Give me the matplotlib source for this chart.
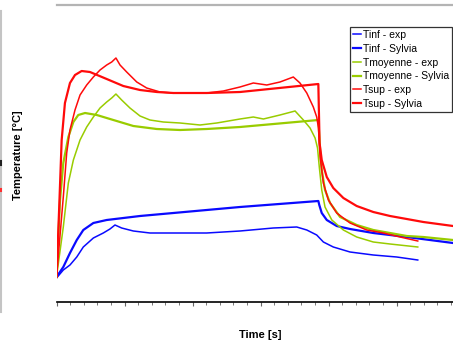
import matplotlib
matplotlib.use("Agg")
import matplotlib.pyplot as plt
from matplotlib.lines import Line2D
from matplotlib.ticker import MultipleLocator, NullFormatter, NullLocator

plt.rcParams['font.family'] = ['Liberation Sans', 'DejaVu Sans']

# ---- data (time in s, temperature in degC) ----
tinf_exp_t = [0, 50, 99, 149, 197, 271, 344, 393, 430, 479, 565, 687, 859, 1104, 1349, 1594, 1766,
              1840, 1913, 1962, 2035, 2158, 2329, 2501, 2656]
tinf_exp_T = [24, 32, 37, 45, 55, 64, 69, 73, 77, 74, 71, 69, 69, 69, 71, 74, 75,
              72, 67, 60, 55, 50, 47, 45, 42]

tinf_syl_t = [0, 50, 99, 149, 197, 271, 369, 614, 859, 1104, 1349, 1925, 1932, 1950, 1987, 2060,
              2158, 2329, 2575, 2915]
tinf_syl_T = [25, 35, 49, 62, 72, 79, 82, 86, 89, 92, 95, 101, 97, 89, 82, 76,
              73, 69, 65, 59]

tmoy_exp_t = [0, 50, 87, 124, 173, 222, 271, 320, 369, 406, 437, 479, 540, 614, 687, 785, 908,
              1055, 1178, 1349, 1447, 1521, 1643, 1754, 1815, 1864, 1901, 1919, 1932, 1950, 1974,
              2024, 2109, 2207, 2329, 2452, 2656]
tmoy_exp_T = [25, 75, 119, 142, 162, 175, 185, 194, 200, 204, 208, 202, 194, 186, 182, 180, 179,
              177, 179, 183, 185, 183, 187, 191, 182, 174, 164, 154, 135, 112, 95,
              82, 72, 65, 60, 58, 55]

tmoy_syl_t = [0, 26, 50, 87, 124, 160, 210, 296, 418, 565, 737, 908, 1104, 1349, 1925, 1938, 1950,
              1974, 2011, 2085, 2207, 2329, 2452, 2575, 2697, 2915]
tmoy_syl_T = [25, 102, 139, 165, 180, 187, 189, 187, 182, 176, 173, 172, 173, 175, 182, 152, 132,
              112, 99, 85, 77, 72, 69, 66, 65, 62]

tsup_exp_t = [0, 50, 75, 99, 136, 173, 222, 271, 320, 369, 406, 437, 467, 516, 590, 663, 761, 859,
              982, 1104, 1227, 1349, 1447, 1546, 1643, 1741, 1790, 1840, 1888, 1913, 1926, 1938,
              1962, 1999, 2060, 2158, 2281, 2403, 2526, 2656]
tsup_exp_T = [25, 105, 149, 172, 192, 207, 217, 225, 232, 237, 240, 244, 237, 230, 220, 214, 210, 209,
              209, 209, 211, 215, 219, 217, 220, 225, 219, 209, 195, 185, 174, 145,
              119, 102, 89, 79, 72, 69, 65, 61]

tsup_syl_t = [0, 20, 38, 62, 99, 136, 185, 246, 369, 491, 614, 737, 859, 1104, 1349, 1925, 1934,
              1950, 1987, 2035, 2109, 2207, 2329, 2452, 2575, 2697, 2915]
tsup_syl_T = [25, 95, 162, 199, 219, 227, 231, 230, 223, 216, 212, 210, 209, 209, 210, 218, 159,
              142, 125, 114, 104, 96, 90, 86, 83, 80, 76]

labels = ['Tinf - exp', 'Tinf - Sylvia', 'Tmoyenne - exp', 'Tmoyenne - Sylvia',
          'Tsup - exp', 'Tsup - Sylvia']

BLUE = '#0a0aff'
GREEN = '#99cc00'
RED = '#ff0a0a'

W, H = 453, 345
fig = plt.figure(figsize=(W / 100, H / 100), dpi=100)
ax = fig.add_axes([56.5 / W, (H - 302) / H, 1 - 56.5 / W, (302 - 5) / H])

ax.plot(tinf_exp_t, tinf_exp_T, color=BLUE, lw=1.1, label=labels[0])
ax.plot(tinf_syl_t, tinf_syl_T, color=BLUE, lw=1.6, label=labels[1])
ax.plot(tmoy_exp_t, tmoy_exp_T, color=GREEN, lw=1.1, label=labels[2])
ax.plot(tmoy_syl_t, tmoy_syl_T, color=GREEN, lw=1.6, label=labels[3])
ax.plot(tsup_exp_t, tsup_exp_T, color=RED, lw=1.1, label=labels[4])
ax.plot(tsup_syl_t, tsup_syl_T, color=RED, lw=1.6, label=labels[5])

ax.set_xlim(0, 2915)
ax.set_ylim(0, 297)

for s in ['left', 'right']:
    ax.spines[s].set_visible(False)
ax.spines['top'].set_color('#b4b4b4')
ax.spines['top'].set_linewidth(1.6)
ax.spines['bottom'].set_linewidth(1.2)

ax.xaxis.set_major_locator(MultipleLocator(500))
ax.xaxis.set_minor_locator(MultipleLocator(100))
ax.xaxis.set_major_formatter(NullFormatter())
ax.tick_params(axis='x', which='major', direction='out', length=3, width=0.8, color='#666666')
ax.tick_params(axis='x', which='minor', direction='out', length=2, width=0.7, color='#777777')
ax.tick_params(axis='x', top=False)
ax.yaxis.set_major_locator(NullLocator())
ax.yaxis.set_minor_locator(NullLocator())

ax.set_xlabel('Time [s]', fontsize=8, fontweight='bold')
ax.xaxis.set_label_coords((260 - 56.5) / (W - 56.5), -(335 - 302) / (302 - 5), transform=ax.transAxes)
ax.xaxis.label.set_va('center')
ax.set_ylabel('Temperature [°C]', fontsize=8, fontweight='bold')
ax.yaxis.set_label_coords(-(56.5 - 18) / (W - 56.5), (302 - 155) / (302 - 5), transform=ax.transAxes)
ax.yaxis.label.set_va('center')

leg = ax.legend(loc='upper right', bbox_to_anchor=(452 / W, (H - 27) / H),
                bbox_transform=fig.transFigure, fontsize=7.5, frameon=True, fancybox=False,
                borderaxespad=0, borderpad=0.3, labelspacing=0.36, handlelength=0.8,
                handletextpad=0.15)
leg.get_frame().set_edgecolor('black')
leg.get_frame().set_linewidth(0.9)

# remnants of the neighbouring frame at the left edge
fig.add_artist(Line2D([1.2 / W, 1.2 / W], [(H - 11) / H, (H - 312) / H],
                      transform=fig.transFigure, color='#c4c4c4', lw=1.5))
fig.add_artist(Line2D([1.2 / W, 1.2 / W], [(H - 161) / H, (H - 165) / H],
                      transform=fig.transFigure, color='#222222', lw=1.5))
fig.add_artist(Line2D([1.2 / W, 1.2 / W], [(H - 189) / H, (H - 191) / H],
                      transform=fig.transFigure, color='#ff3030', lw=1.5))

fig.savefig('out.png', dpi=100)
